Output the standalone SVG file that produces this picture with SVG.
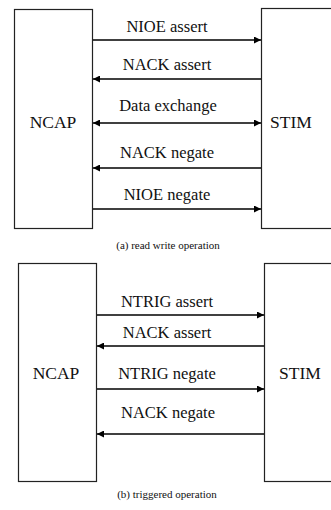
<svg xmlns="http://www.w3.org/2000/svg" width="331" height="510" viewBox="0 0 331 510">
<defs>
  <marker id="ah" viewBox="0 0 10 10" refX="10" refY="5" markerWidth="7" markerHeight="7" markerUnits="userSpaceOnUse" orient="auto-start-reverse">
    <path d="M0,0 L10,5 L0,10 z" fill="#000"/>
  </marker>
</defs>
<rect width="331" height="510" fill="#fff"/>

<g id="ncap-a">
  <rect x="14.5" y="9.5" width="78" height="219" fill="#fff" stroke="#222" stroke-width="1.2"/>
  <text x="53" y="128" font-family="Liberation Serif, serif" font-size="17.5" text-anchor="middle" fill="#111">NCAP</text>
</g>
<g id="stim-a">
  <rect x="261.5" y="8.5" width="90" height="220" fill="#fff" stroke="#222" stroke-width="1.2"/>
  <text x="291" y="128" font-family="Liberation Serif, serif" font-size="17.5" text-anchor="middle" fill="#111">STIM</text>
</g>
<g id="ncap-b">
  <rect x="18.5" y="263.5" width="78" height="218" fill="#fff" stroke="#222" stroke-width="1.2"/>
  <text x="56" y="379" font-family="Liberation Serif, serif" font-size="17.5" text-anchor="middle" fill="#111">NCAP</text>
</g>
<g id="stim-b">
  <rect x="264.5" y="263.5" width="90" height="218" fill="#fff" stroke="#222" stroke-width="1.2"/>
  <text x="300" y="379" font-family="Liberation Serif, serif" font-size="17.5" text-anchor="middle" fill="#111">STIM</text>
</g>

<g id="connectors" stroke="#000" stroke-width="1.6" fill="none">
  <line x1="93" y1="40" x2="261" y2="40" marker-end="url(#ah)"/>
  <line x1="261" y1="79" x2="93" y2="79" marker-end="url(#ah)"/>
  <line x1="93" y1="123" x2="261" y2="123" marker-start="url(#ah)" marker-end="url(#ah)"/>
  <line x1="261" y1="168" x2="93" y2="168" marker-end="url(#ah)"/>
  <line x1="93" y1="209" x2="261" y2="209" marker-end="url(#ah)"/>
  <line x1="97" y1="315" x2="264" y2="315" marker-end="url(#ah)"/>
  <line x1="264" y1="346" x2="97" y2="346" marker-end="url(#ah)"/>
  <line x1="97" y1="389" x2="264" y2="389" marker-end="url(#ah)"/>
  <line x1="264" y1="434" x2="97" y2="434" marker-end="url(#ah)"/>
</g>

<g id="labels" font-family="Liberation Serif, serif" font-size="16.5" text-anchor="middle" fill="#111">
  <text x="167" y="32">NIOE assert</text>
  <text x="167" y="70">NACK assert</text>
  <text x="168" y="111">Data exchange</text>
  <text x="167" y="158">NACK negate</text>
  <text x="167" y="200">NIOE negate</text>
  <text x="168" y="249" font-size="11">(a) read write operation</text>
  <text x="167" y="307">NTRIG assert</text>
  <text x="167" y="338">NACK assert</text>
  <text x="167" y="379">NTRIG negate</text>
  <text x="168" y="418">NACK negate</text>
  <text x="167" y="498" font-size="11">(b) triggered operation</text>
</g>
</svg>
